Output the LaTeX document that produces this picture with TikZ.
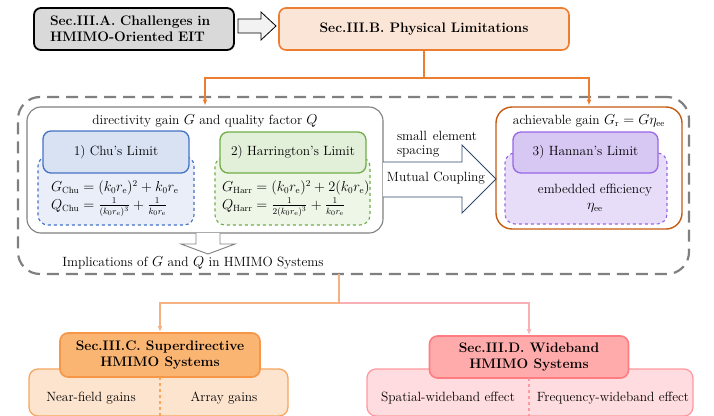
\documentclass[tikz,border=0pt]{standalone}
\usetikzlibrary{arrows.meta,calc}
\definecolor{secA}{HTML}{D9D9D9}
\definecolor{secBfill}{HTML}{FBE5D6}
\definecolor{secBline}{HTML}{ED7D31}
\definecolor{frameGray}{HTML}{808080}
\definecolor{chuLine}{HTML}{4472C4}
\definecolor{chuFill}{HTML}{D9E2F3}
\definecolor{chuSoft}{HTML}{E9EEF8}
\definecolor{harLine}{HTML}{70AD47}
\definecolor{harFill}{HTML}{E2EFD9}
\definecolor{harSoft}{HTML}{EEF6E8}
\definecolor{hanLine}{HTML}{9966E6}
\definecolor{hanFill}{HTML}{D6C7F3}
\definecolor{hanSoft}{HTML}{E7DDF9}
\definecolor{gainLine}{HTML}{C55A11}
\definecolor{mcLine}{HTML}{2F4A6E}
\definecolor{secCline}{HTML}{F79646}
\definecolor{secCfill}{HTML}{FAB572}
\definecolor{secCsoft}{HTML}{FDE4CE}
\definecolor{secClight}{HTML}{F8A65E}
\definecolor{linkC}{HTML}{F4B183}
\definecolor{secDline}{HTML}{FF7C80}
\definecolor{secDfill}{HTML}{FFABAB}
\definecolor{secDsoft}{HTML}{FFDCDF}
\definecolor{secDlight}{HTML}{FF99A0}
\definecolor{linkD}{HTML}{F9B0B5}
\tikzset{
  every node/.style={font=\fontsize{13.4}{15.5}\selectfont, inner sep=0pt, outer sep=0pt},
  box/.style={rectangle, rounded corners=#1},
  box/.default=8pt,
  title/.style={font=\fontsize{13.8}{16.5}\selectfont\bfseries, align=center},
  tip/.style={-{Latex[length=6pt,width=5pt]}},
}
\begin{document}
\begin{tikzpicture}[x=1pt,y=-1pt]
\clip (0,0) rectangle (714,415);
\useasboundingbox (0,0) rectangle (714,415);

% top row
\node[box=7pt, draw=black, line width=1.8pt, fill=secA, minimum width=200pt, minimum height=42pt,
      text width=168pt, align=left, font=\fontsize{13.8}{16.5}\selectfont\bfseries]
  (A) at (134,29) {Sec.III.A. Challenges in\\HMIMO-Oriented EIT};
\node[box=7pt, draw=secBline, line width=1.6pt, fill=secBfill, minimum width=290pt, minimum height=42pt, title]
  (B) at (424,29) {Sec.III.B. Physical Limitations};
\draw[line width=0.8pt, fill=black!5]
  (238,19) -- (261,19) -- (261,12) -- (276,26) -- (261,40) -- (261,33) -- (238,33) -- cycle;

% outer dashed frame
\node[box=22pt, draw=frameGray, line width=2.2pt, dash pattern=on 12pt off 7pt,
      minimum width=671pt, minimum height=177pt] (frame) at (353.5,185.5) {};

% left group: directivity gain and quality factor
\node[box=14pt, draw=frameGray, line width=1.1pt, fill=white, minimum width=356pt, minimum height=126pt]
  (G) at (205,170) {};
\node (Gt) at (205,121) {directivity gain $G$ and quality factor $Q$};

\node[box=10pt, draw=chuLine, line width=1.1pt, dashed, fill=chuSoft, minimum width=156pt, minimum height=69pt]
  (chuD) at (116,190.5) {};
\node[box=8pt, draw=chuLine, line width=1.3pt, fill=chuFill, minimum width=146pt, minimum height=42pt]
  (chu) at (116,152) {1) Chu's Limit};
\node[anchor=west] (chuG) at (51,188) {$G_{\mathrm{Chu}}=(k_0r_{\mathrm{e}})^2+k_0r_{\mathrm{e}}$};
\node[anchor=west] (chuQ) at (51,207) {$Q_{\mathrm{Chu}}=\frac{1}{(k_0r_{\mathrm{e}})^3}+\frac{1}{k_0r_{\mathrm{e}}}$};

\node[box=10pt, draw=harLine, line width=1.1pt, dashed, fill=harSoft, minimum width=155pt, minimum height=68pt]
  (harD) at (292.5,191) {};
\node[box=8pt, draw=harLine, line width=1.3pt, fill=harFill, minimum width=146pt, minimum height=41pt]
  (har) at (293,152.5) {2) Harrington's Limit};
\node[anchor=west] (harG) at (222,188) {$G_{\mathrm{Harr}}=(k_0r_{\mathrm{e}})^2+2(k_0r_{\mathrm{e}})$};
\node[anchor=west] (harQ) at (222,207) {$Q_{\mathrm{Harr}}=\frac{1}{2(k_0r_{\mathrm{e}})^3}+\frac{1}{k_0r_{\mathrm{e}}}$};

% hollow arrow to the implications
\draw[draw=frameGray, line width=0.9pt, fill=white]
  (196,233) -- (196,244) -- (181,244) -- (208,254) -- (235,244) -- (220,244) -- (220,233);
\node (impl) at (193,263) {Implications of $G$ and $Q$ in HMIMO Systems};

% right group: achievable gain
\node[box=16pt, draw=gainLine, line width=1.4pt, fill=white, minimum width=186pt, minimum height=122pt]
  (R) at (589,168) {};
\node (Rt) at (589,121) {achievable gain $G_{\mathrm{r}}=G\eta_{\mathrm{ee}}$};
\node[box=10pt, draw=hanLine, line width=1.1pt, dashed, fill=hanSoft, minimum width=162pt, minimum height=71pt]
  (hanD) at (586,188.5) {};
\node[box=8pt, draw=hanLine, line width=1.3pt, fill=hanFill, minimum width=145pt, minimum height=41pt]
  (han) at (585.5,152.5) {3) Hannan's Limit};
\node (eff) at (595,190) {embedded efficiency};
\node (eta) at (595,208) {$\eta_{\mathrm{ee}}$};

% mutual coupling block arrow
\draw[draw=mcLine, line width=0.9pt, fill=white]
  (383,162) -- (462,162) -- (462,145) -- (496,179) -- (462,213) -- (462,197) -- (383,197);
\node[anchor=north west, text width=80pt, align=justify, font=\fontsize{13.4}{14}\selectfont] (spc) at (397,131) {small element spacing};
\node (mc) at (436,178) {Mutual Coupling};

% links from the physical limitations box
\coordinate (split) at (424,78);
\draw[secBline, line width=1.4pt] (B.south) -- (split);
\draw[secBline, line width=1.4pt, tip, shorten >=1.5pt] (split) -| (G.north);
\draw[secBline, line width=1.4pt, tip, shorten >=1.5pt] (split) -| (R.north);

% lower sections
\node[box=9pt, draw=secClight, line width=1.3pt, fill=secCsoft, minimum width=259pt, minimum height=47pt]
  (Cl) at (158.5,392.5) {};
\node[box=8pt, draw=secCline, line width=1.6pt, fill=secCfill, minimum width=200pt, minimum height=44pt, title]
  (C) at (160,355) {Sec.III.C. Superdirective\\HMIMO Systems};
\draw[secClight, line width=1.3pt, dashed] (C.south) -- (C.south |- Cl.south);
\node (nf) at (91,398) {Near-field gains};
\node (ag) at (224,398) {Array gains};

\node[box=9pt, draw=secDlight, line width=1.3pt, fill=secDsoft, minimum width=326pt, minimum height=47pt]
  (Dl) at (530,392.5) {};
\node[box=8pt, draw=secDline, line width=1.6pt, fill=secDfill, minimum width=199pt, minimum height=42pt, title]
  (D) at (529,357) {Sec.III.D. Wideband\\HMIMO Systems};
\draw[secDlight, line width=1.3pt, dashed] (D.south) -- (D.south |- Dl.south);
\node (sw) at (448,398) {Spatial-wideband effect};
\node (fw) at (613,398) {Frequency-wideband effect};

\coordinate (fsplit) at (339,274);
\coordinate (fmid) at (339,303);
\draw[linkD, line width=1.4pt, tip, shorten >=1pt] (fmid) -| (D.north);
\draw[linkC, line width=1.4pt, tip, shorten >=1pt] (fsplit) -- (fmid) -| (C.north);
\end{tikzpicture}
\end{document}
